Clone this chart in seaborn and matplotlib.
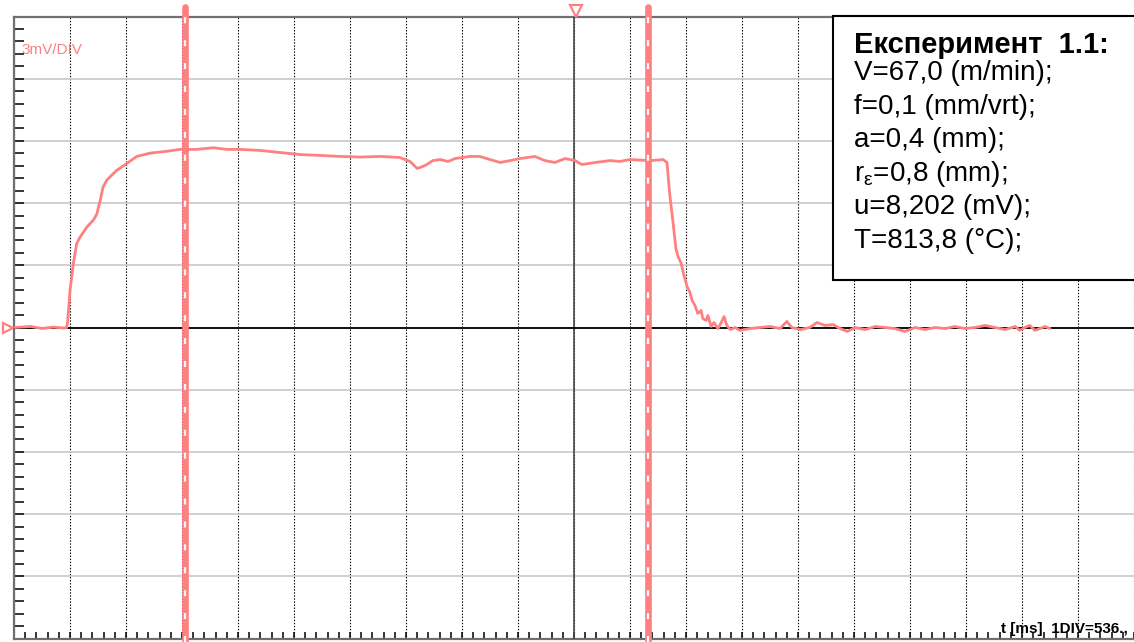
import matplotlib
matplotlib.use("Agg")
import matplotlib.pyplot as plt
import seaborn as sns
import pandas as pd
from matplotlib.ticker import MultipleLocator
from matplotlib.patches import Rectangle

sns.set_theme(style="white")
plt.rcParams['font.family'] = ['Liberation Sans', 'DejaVu Sans']
plt.rcParams['text.color'] = 'black'
plt.rcParams['lines.scale_dashes'] = False

# Scope settings
MV_PER_DIV = 3
MS_PER_DIV = 536
N_DIV_X = 20
N_DIV_Y = 10

# Recorded thermo-EMF trace: time in screen divisions, voltage in mV
t_div = [0.02, 0.30, 0.50, 0.70, 0.90, 0.94,
         0.96, 1.00, 1.06, 1.12, 1.18, 1.30, 1.42, 1.48, 1.54, 1.59, 1.66, 1.83,
         2.01, 2.19, 2.43, 2.73, 2.96, 3.26, 3.56, 3.80,
         4.04, 4.39, 4.75, 5.11, 5.46, 5.82, 6.18, 6.54, 6.89, 7.07, 7.20, 7.34,
         7.48, 7.61, 7.75, 7.88, 8.14, 8.32, 8.50, 8.68, 8.86, 9.04, 9.30, 9.48,
         9.66, 9.84, 10.02, 10.14, 10.38, 10.64, 10.82, 11.00, 11.36, 11.59,
         11.66, 11.71, 11.77, 11.82, 11.86, 11.91, 11.96, 12.02, 12.07, 12.11,
         12.16, 12.21, 12.27, 12.30, 12.36, 12.39, 12.45, 12.50, 12.57, 12.63,
         12.68, 12.73, 12.79, 12.88, 12.96, 13.14, 13.32, 13.50, 13.68, 13.80,
         13.89, 14.04, 14.21, 14.34, 14.48, 14.63, 14.75, 14.88, 15.02, 15.20,
         15.38, 15.55, 15.73, 15.91, 16.09, 16.27, 16.45, 16.63, 16.80, 16.98,
         17.16, 17.34, 17.52, 17.70, 17.88, 17.96, 18.05, 18.14, 18.23, 18.32,
         18.41, 18.50]
u_mv = [0.00, 0.05, -0.05, 0.02, -0.03, 0.00,
        0.34, 1.78, 3.09, 4.05, 4.36, 4.84, 5.19, 5.48, 6.13, 6.77, 7.12, 7.57,
        7.90, 8.25, 8.41, 8.50, 8.59, 8.59, 8.67, 8.59,
        8.59, 8.54, 8.44, 8.34, 8.30, 8.25, 8.22, 8.25, 8.20, 8.01, 7.67, 7.81,
        8.05, 8.10, 8.01, 8.15, 8.25, 8.25, 8.10, 7.96, 8.05, 8.15, 8.25, 8.05,
        7.96, 8.15, 8.05, 7.86, 7.96, 8.05, 8.01, 8.10, 8.05, 8.10,
        7.96, 6.40, 5.03, 3.80, 3.40, 3.13, 2.55, 1.98, 1.69, 1.30,
        1.06, 0.68, 0.82, 0.43, 0.34, 0.58, 0.05, 0.24, -0.05, 0.24,
        0.53, 0.10, -0.10, 0.00, -0.14, -0.05, 0.00, 0.05, -0.05, 0.29,
        0.00, -0.10, 0.00, 0.24, 0.10, 0.14, -0.05, -0.19, 0.00, -0.10,
        0.05, 0.00, -0.05, -0.19, 0.00, -0.10, 0.00, -0.05, 0.05, -0.05,
        0.00, 0.10, 0.00, -0.10, 0.05, -0.14, 0.00, 0.10, -0.14, -0.05,
        0.05, -0.05]

# Measurement cursors and trigger position (divisions)
cursor_t = [3.05, 11.33]
trigger_t = 10.03

info_title = "Експеримент  1.1:"
info_lines = ["V=67,0 (m/min);",
              "f=0,1 (mm/vrt);",
              "a=0,4 (mm);",
              r"r$_{\mathregular{ε}}$=0,8 (mm);",
              "u=8,202 (mV);",
              "T=813,8 (°C);"]

trace_color = "#ff8080"

fig = plt.figure(figsize=(11.34, 6.42), dpi=100)
ax = fig.add_axes([14 / 1134, 3.5 / 642, 1120 / 1134, 622 / 642])

df = pd.DataFrame({"t": t_div, "u": u_mv})
sns.lineplot(data=df, x="t", y="u", ax=ax, color=trace_color, lw=2.0,
             estimator=None, sort=False, zorder=5)

half_y = MV_PER_DIV * N_DIV_Y / 2
ax.set_xlim(0, N_DIV_X)
ax.set_ylim(-half_y, half_y)
ax.set_xlabel("")
ax.set_ylabel("")

ax.xaxis.set_major_locator(MultipleLocator(1))
ax.xaxis.set_minor_locator(MultipleLocator(0.2))
ax.yaxis.set_major_locator(MultipleLocator(MV_PER_DIV))
ax.yaxis.set_minor_locator(MultipleLocator(MV_PER_DIV / 5))
ax.tick_params(axis="both", which="both", direction="in", labelleft=False,
               labelbottom=False, color="black", width=1.1)
ax.tick_params(axis="y", which="both", left=True, length=7.2)
ax.tick_params(axis="x", which="both", bottom=True, length=5)

for side in ("left", "top", "bottom"):
    ax.spines[side].set_color("#707070")
    ax.spines[side].set_linewidth(1.6)
ax.spines["right"].set_visible(False)

# Screen graticule
ax.grid(axis="x", which="major", color="black", lw=0.8, linestyle=(0, (1, 1.2)))
ax.grid(axis="y", which="major", color="#c8c8c8", lw=1.2, linestyle="-")
ax.set_axisbelow(True)
ax.axvline(N_DIV_X / 2, color="#4a4a4a", lw=1.2, zorder=3)
ax.axhline(0, color="black", lw=1.3, zorder=3)

# Cursors
for c in cursor_t:
    ax.axvline(c, ymin=-0.006, ymax=1.015, color=trace_color, lw=4.8,
               clip_on=False, zorder=6)
    ax.axvline(c, ymin=-0.006, ymax=1.0, color="white", lw=1.6,
               dashes=(4.3, 12.2), clip_on=False, zorder=7)

# Trigger and ground markers
ax.plot([trigger_t], [1.0088], transform=ax.get_xaxis_transform(),
        marker="v", markersize=8.5,
        markerfacecolor="white", markeredgecolor=trace_color, mew=1.6,
        clip_on=False, zorder=8, ls="none")
ax.plot([-0.0054], [0], transform=ax.get_yaxis_transform(),
        marker=">", markersize=7.5, markerfacecolor="white",
        markeredgecolor=trace_color, mew=1.6, clip_on=False, zorder=8, ls="none")

ax.text(0.00625, 0.946, f"{MV_PER_DIV}mV/DIV", transform=ax.transAxes,
        color="#ff8080", fontsize=11, ha="left", va="center", zorder=8)
ax.text(0.9946, 0.0088, f"t [ms]  1DIV={MS_PER_DIV}.,", transform=ax.transAxes,
        color="black", fontsize=11, fontweight="bold", ha="right",
        va="baseline", zorder=8)

# Experiment parameters box
box = Rectangle((0.7313, 0.5764), 0.30, 0.4252, transform=ax.transAxes,
                facecolor="white", edgecolor="black", lw=1.5, clip_on=False,
                zorder=9)
ax.add_patch(box)
ax.text(0.75, 0.9408, info_title, transform=ax.transAxes, fontsize=21,
        fontweight="bold", color="black", ha="left", va="baseline", zorder=10)
for i, line in enumerate(info_lines):
    ax.text(0.75, 0.8979 - i * 0.0540, line, transform=ax.transAxes,
            fontsize=20, color="black", ha="left", va="baseline", zorder=10)

fig.savefig("out.png", dpi=100)
